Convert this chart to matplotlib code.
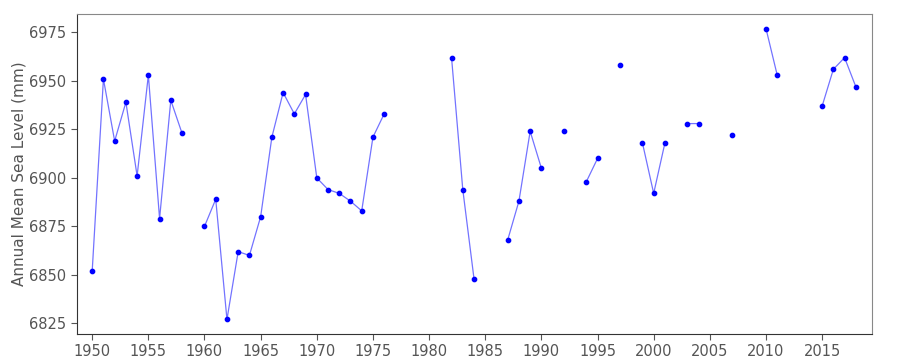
import numpy as np
import matplotlib
matplotlib.use("Agg")
import matplotlib.pyplot as plt

# Annual mean sea level, NaN where a year is missing
years = list(range(1950, 2019))
sea_level = [
    6852, 6951, 6919, 6939, 6901, 6953, 6879, 6940, 6923, np.nan,   # 1950-1959
    6875, 6889, 6827, 6862, 6860, 6880, 6921, 6944, 6933, 6943,     # 1960-1969
    6900, 6894, 6892, 6888, 6883, 6921, 6933, np.nan, np.nan, np.nan,  # 1970-1979
    np.nan, np.nan, 6962, 6894, 6848, np.nan, np.nan, 6868, 6888, 6924,  # 1980-1989
    6905, np.nan, 6924, np.nan, 6898, 6910, np.nan, 6958, np.nan, 6918,  # 1990-1999
    6892, 6918, np.nan, 6928, 6928, np.nan, np.nan, 6922, np.nan, np.nan,  # 2000-2009
    6977, 6953, np.nan, np.nan, np.nan, 6937, 6956, 6962, 6947,     # 2010-2018
]
x_ticks = [1950, 1955, 1960, 1965, 1970, 1975, 1980, 1985, 1990, 1995,
           2000, 2005, 2010, 2015]
y_ticks = [6825, 6850, 6875, 6900, 6925, 6950, 6975]

text_color = "#555555"

fig = plt.figure(figsize=(9, 3.6), dpi=100)
ax = fig.add_axes([0.0856, 0.0722, 0.8834, 0.8889])

ax.plot(years, sea_level, color="blue", alpha=0.55, linewidth=0.9)
ax.plot(years, sea_level, linestyle="none", marker="o", markersize=3.1,
        color="blue")

ax.set_xlim(1948.65, 2019.45)
ax.set_ylim(6819.5, 6984.5)
ax.set_xticks(x_ticks)
ax.set_yticks(y_ticks)
ax.set_ylabel("Annual Mean Sea Level (mm)", fontsize=11, color=text_color,
              labelpad=2)
ax.tick_params(labelsize=10.5, colors=text_color, length=4, width=0.8)

for side in ["left", "bottom"]:
    ax.spines[side].set_color("#333333")
for side in ["top", "right"]:
    ax.spines[side].set_color("#888888")

fig.savefig("out.png", dpi=100)
